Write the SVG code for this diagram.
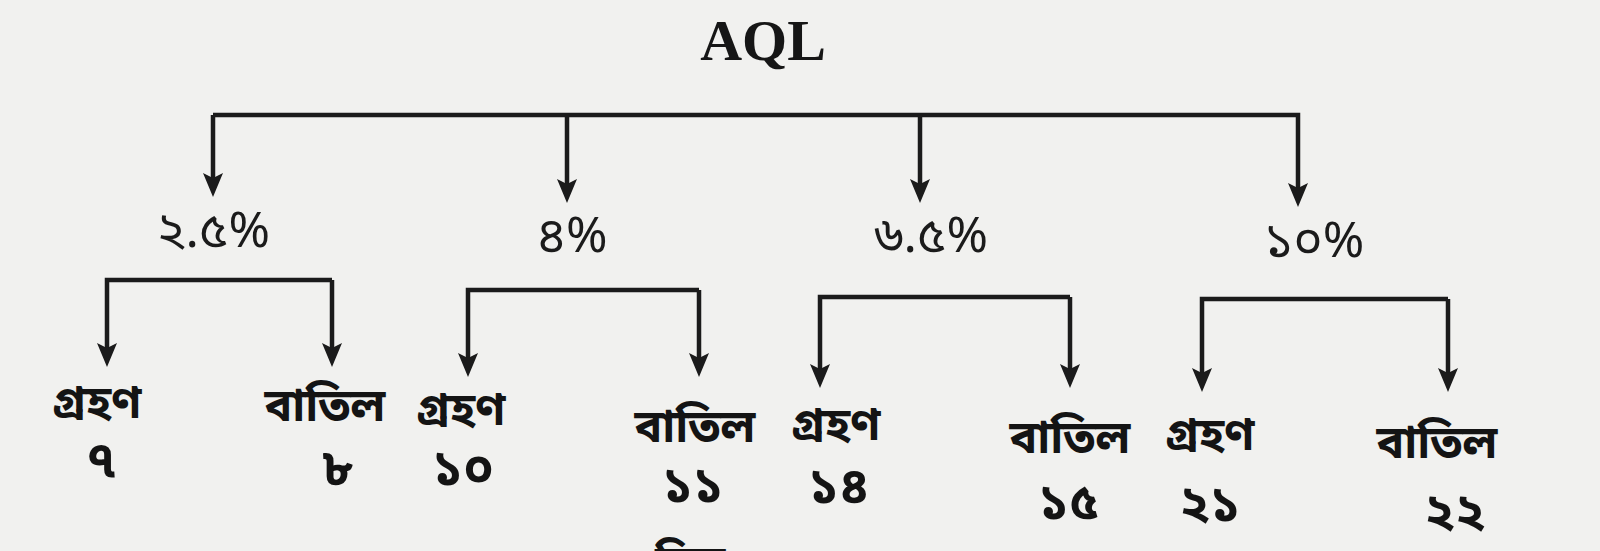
<svg xmlns="http://www.w3.org/2000/svg" width="1600" height="551" viewBox="0 0 1600 551">
<style>
.ln{fill:none;stroke:#1b1b1b;stroke-width:4.5;marker-end:url(#ah)}
.title{font-family:"Liberation Serif","Times New Roman",serif;font-weight:bold;font-size:58px;fill:#161616;text-anchor:middle}
.pct{font-family:"Noto Sans Bengali","Noto Serif Bengali","Lohit Bengali","Noto Sans",sans-serif;font-size:50px;fill:#1b1b1b;text-anchor:middle}
.lbl{font-family:"Noto Sans Bengali","Noto Serif Bengali","Lohit Bengali","Noto Sans",sans-serif;font-size:46px;font-weight:bold;fill:#141414;text-anchor:middle}
.num{font-family:"Noto Sans Bengali","Noto Serif Bengali","Lohit Bengali","Noto Sans",sans-serif;font-size:50px;font-weight:bold;fill:#141414;text-anchor:middle}
</style>
<defs>
<marker id="ah" viewBox="0 0 24 20" refX="12" refY="10" markerWidth="24" markerHeight="20" markerUnits="userSpaceOnUse" orient="auto">
<path d="M0,0 L24,10 L0,20 L5,10 z" fill="#1b1b1b"/>
</marker>
</defs>
<rect width="1600" height="551" fill="#f1f1ef"/>
<g id="connectors">
<path class="ln" d="M213,115 H1298 V195"/>
<path class="ln" d="M213,115 V185"/>
<path class="ln" d="M567,115 V191"/>
<path class="ln" d="M920,115 V191"/>
<path class="ln" d="M332,280 H107 V355"/>
<path class="ln" d="M332,280 V355"/>
<path class="ln" d="M699,290 H468 V365"/>
<path class="ln" d="M699,290 V365"/>
<path class="ln" d="M1070,297 H820 V376"/>
<path class="ln" d="M1070,297 V376"/>
<path class="ln" d="M1448,299 H1202 V380"/>
<path class="ln" d="M1448,299 V380"/>
</g>
<g id="n-aql"><text class="title" x="763" y="60">AQL</text></g>
<g id="n-2-5"><text class="pct" x="213" y="247">২.৫%</text></g>
<g id="n-4"><text class="pct" x="572" y="252">৪%</text></g>
<g id="n-6-5"><text class="pct" x="931" y="252">৬.৫%</text></g>
<g id="n-10"><text class="pct" x="1314" y="257">১০%</text></g>
<g id="n-a1"><text class="lbl" x="97" y="418">গ্রহণ</text><text class="num" x="101" y="477">৭</text></g>
<g id="n-r1"><text class="lbl" x="325" y="421">বাতিল</text><text class="num" x="338" y="485">৮</text></g>
<g id="n-a2"><text class="lbl" x="461" y="425">গ্রহণ</text><text class="num" x="463" y="485">১০</text></g>
<g id="n-r2"><text class="lbl" x="695" y="442">বাতিল</text><text class="num" x="693" y="502">১১</text></g>
<g id="n-a3"><text class="lbl" x="836" y="440">গ্রহণ</text><text class="num" x="839" y="503">১৪</text></g>
<g id="n-r3"><text class="lbl" x="1070" y="453">বাতিল</text><text class="num" x="1069" y="519">১৫</text></g>
<g id="n-a4"><text class="lbl" x="1210" y="450">গ্রহণ</text><text class="num" x="1210" y="521">২১</text></g>
<g id="n-r4"><text class="lbl" x="1437" y="458">বাতিল</text><text class="num" x="1455" y="529">২২</text></g>
<g id="caption"><text class="lbl" x="655" y="578" style="text-anchor:start">চিত্র</text></g>
</svg>
